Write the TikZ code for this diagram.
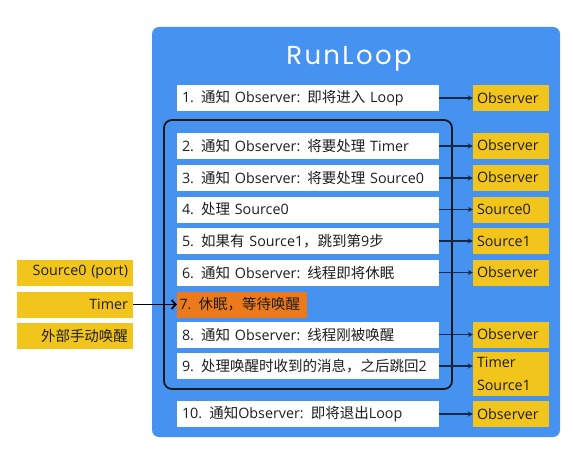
\documentclass[tikz,border=0pt]{standalone}
\usepackage{fontspec}
\setmainfont{Open Sans}
\newfontfamily\cjkf{Noto Sans CJK SC}
\newfontfamily\titlef{Poppins}[LetterSpace=9]
\usetikzlibrary{arrows.meta}
\definecolor{panelblue}{HTML}{4592F0}
\definecolor{boxyellow}{HTML}{F2C51C}
\definecolor{boxorange}{HTML}{EC7A1C}
\definecolor{arrownavy}{HTML}{142848}
\definecolor{txt}{HTML}{1E1E1E}
\newcommand\C[1]{{\cjkf\fontsize{14.5}{15}\selectfont #1}}
\begin{document}
\begin{tikzpicture}[x=1pt,y=-1pt,
  every node/.style={font=\fontsize{14.3}{23}\selectfont, text=txt},
  wbox/.style={fill=white, minimum height=26pt, text width=252pt, inner xsep=5pt, inner ysep=0pt, align=left},
  ybox/.style={fill=boxyellow, minimum height=26pt, text width=68pt, inner xsep=4pt, inner ysep=0pt, align=left},
  lbox/.style={fill=boxyellow, minimum height=26pt, text width=106pt, inner xsep=5pt, inner ysep=0pt, align=right},
  obox/.style={fill=boxorange, minimum height=26pt, text width=125pt, inner xsep=2.5pt, inner ysep=0pt, align=left},
  conn/.style={draw=arrownavy, line width=1.1pt, -{Stealth[length=5pt,width=5pt]}},
  wake/.style={draw=black, line width=1.8pt, -{Straight Barb[length=4pt,width=9pt]}},
  loopframe/.style={draw=black!90, line width=1.8pt, rounded corners=8pt}
]
\useasboundingbox (0,0) rectangle (573,452);
% panel
\fill[panelblue, rounded corners=7pt] (152,27) rectangle (560,437);
\node[text=white, font=\titlef\fontsize{26}{30}\selectfont] (title) at (349,59) {RunLoop};
% loop frame
\draw[loopframe] (164,120) rectangle (452,389);
% white steps
\node[wbox] (w1) at (308,98) {1. \C{通知} Observer: \C{即将进入} Loop};
\node[wbox] (w2) at (308,146) {2. \C{通知} Observer: \C{将要处理} Timer};
\node[wbox] (w3) at (308,178) {3. \C{通知} Observer: \C{将要处理} Source0};
\node[wbox] (w4) at (308,209.5) {4. \C{处理} Source0};
\node[wbox] (w5) at (308,241) {5. \C{如果有} Source1\C{，跳到第}9\C{步}};
\node[wbox] (w6) at (308,272.5) {6. \C{通知} Observer: \C{线程即将休眠}};
\node[obox] (w7) at (242,304.5) {\mbox{7. \C{休眠，等待唤醒}}};
\node[wbox] (w8) at (308,334.5) {8. \C{通知} Observer: \C{线程刚被唤醒}};
\node[wbox] (w9) at (308,366) {9. \C{处理唤醒时收到的消息，之后跳回}2};
\node[wbox] (w10) at (308,414) {10. \C{通知}Observer: \C{即将退出}Loop};
% yellow targets
\node[ybox] (y1) at (511,98) {Observer};
\node[ybox] (y2) at (511,145.5) {Observer};
\node[ybox] (y3) at (511,177.5) {Observer};
\node[ybox] (y4) at (511,209.5) {Source0};
\node[ybox] (y5) at (511,241) {Source1};
\node[ybox] (y6) at (511,272.5) {Observer};
\node[ybox] (y8) at (511,334.5) {Observer};
\node[ybox, minimum height=44pt] (y9) at (511,374) {Timer\\Source1};
\node[ybox] (y10) at (511,414) {Observer};
% arrows
\foreach \i in {1,2,3,4,5,6,8,9,10}{
  \draw[conn] (w\i.east) -- (w\i.east -| y\i.west);
}
% left sources
\node[lbox] (l1) at (75,272.5) {Source0 (port)};
\node[lbox] (l2) at (75,304.5) {Timer};
\node[lbox] (l3) at (75,336) {\C{外部手动唤醒}};
\draw[wake] (l2.east) -- (w7.west);
\end{tikzpicture}
\end{document}
